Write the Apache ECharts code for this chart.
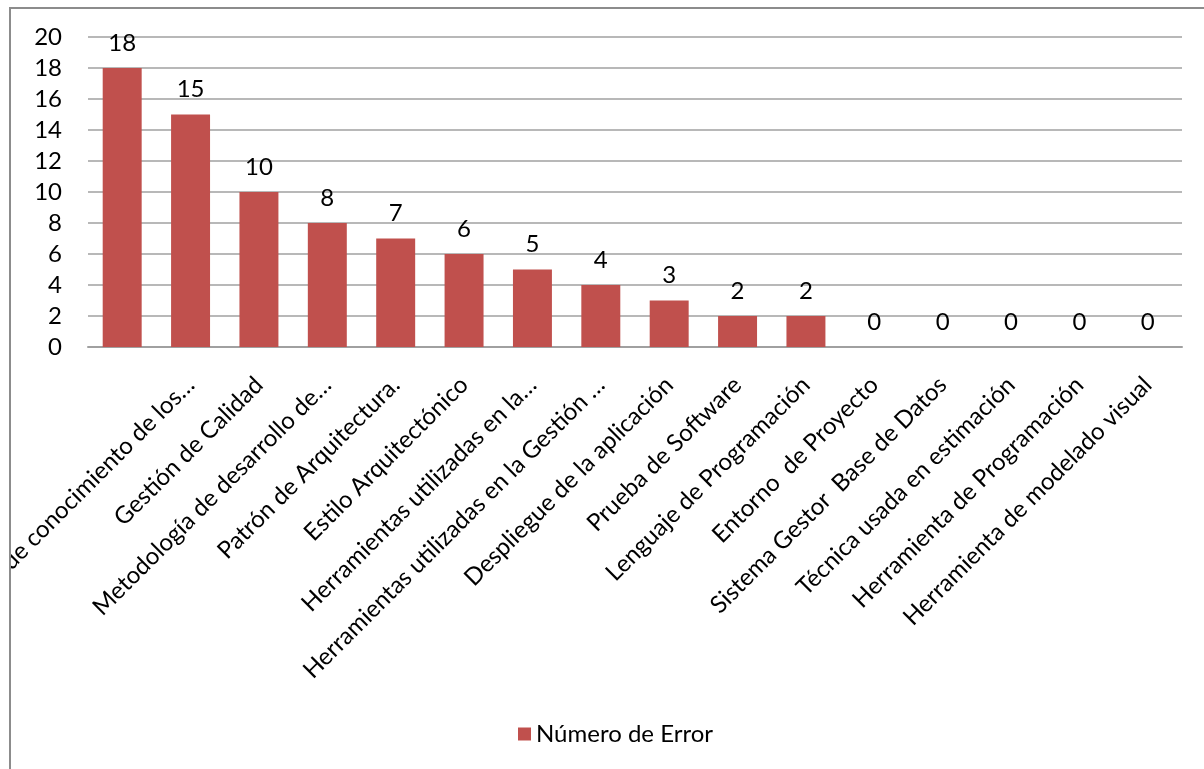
<!DOCTYPE html>
<html>
<head>
<meta charset="utf-8">
<script src="https://cdn.jsdelivr.net/npm/echarts@6/dist/echarts.min.js"></script>
<style>
  html, body { margin: 0; padding: 0; background: #ffffff; overflow: hidden; }
  #frame {
    position: absolute; left: 9px; top: 7px; width: 1220px; height: 790px;
    border-left: 2px solid #8c8c8c; border-top: 2px solid #8c8c8c;
  }
  #chart { position: absolute; left: 0; top: 0; width: 1193px; height: 760px; }
</style>
</head>
<body>
<div id="frame"><div id="chart"></div></div>
<script>
// Categories of detected errors (first one has no caption on the axis)
const categories = [
  "",
  "Nivel de conocimiento de los…",
  "Gestión de Calidad",
  "Metodología de desarrollo de…",
  "Patrón de Arquitectura.",
  "Estilo Arquitectónico",
  "Herramientas utilizadas en la…",
  "Herramientas utilizadas en la Gestión …",
  "Despliegue de la aplicación",
  "Prueba de Software",
  "Lenguaje de Programación",
  "Entorno  de Proyecto",
  "Sistema Gestor  Base de Datos",
  "Técnica usada en estimación",
  "Herramienta de Programación",
  "Herramienta de modelado visual"
];

// Number of errors per category
const errorCounts = [18, 15, 10, 8, 7, 6, 5, 4, 3, 2, 2, 0, 0, 0, 0, 0];

const seriesName = "Número de Error";

// Value axis ticks
const yMin = 0;
const yMax = 20;
const yStep = 2;

const FONT = "Lato, 'Open Sans', sans-serif";
const FS = 24;

const chart = echarts.init(document.getElementById('chart'), null, { renderer: 'canvas' });

chart.setOption({
  backgroundColor: 'transparent',
  animation: false,
  textStyle: { fontFamily: FONT, color: '#000' },
  legend: {
    data: [seriesName],
    left: 502,
    top: 708,
    itemWidth: 13,
    itemHeight: 13,
    icon: 'rect',
    textStyle: { fontFamily: FONT, fontSize: FS, color: '#000' }
  },
  grid: {
    left: 77, top: 28, width: 1094, height: 310,
    containLabel: false,
    outerBoundsMode: 'none'
  },
  xAxis: {
    type: 'category',
    data: categories,
    axisLine: { show: true, lineStyle: { color: '#a0a0a0', width: 2 } },
    axisTick: { show: false },
    axisLabel: {
      interval: 0,
      rotate: 45,
      margin: 34,
      fontFamily: FONT,
      fontSize: FS,
      color: '#000'
    },
    splitLine: { show: false }
  },
  yAxis: {
    type: 'value',
    min: yMin,
    max: yMax,
    interval: yStep,
    axisLine: { show: false },
    axisTick: { show: false },
    axisLabel: { margin: 26, fontFamily: FONT, fontSize: FS, color: '#000' },
    splitLine: { show: true, lineStyle: { color: '#a0a0a0', width: 1.5 } }
  },
  series: [{
    name: seriesName,
    type: 'bar',
    data: errorCounts,
    barWidth: '57%',
    itemStyle: { color: '#C0504D' },
    label: {
      show: true,
      position: 'top',
      distance: 13,
      fontFamily: FONT,
      fontSize: FS,
      color: '#000'
    }
  }]
});
</script>
</body>
</html>
